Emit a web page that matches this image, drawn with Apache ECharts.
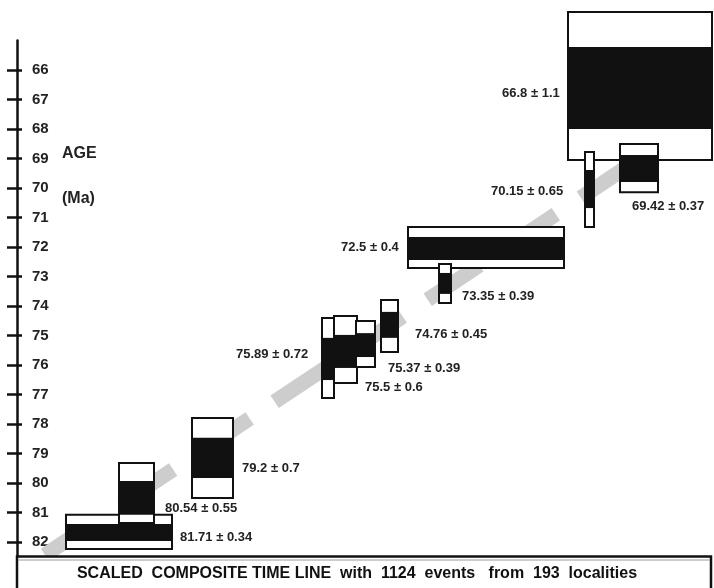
<!DOCTYPE html>
<html>
<head>
<meta charset="utf-8">
<script src="https://cdn.jsdelivr.net/npm/echarts@6/dist/echarts.min.js"></script>
<style>
html,body{margin:0;padding:0;background:#fff;}
#chart{width:714px;height:588px;}
</style>
</head>
<body>
<div id="chart"></div>
<script>
// ---- data ----
const ageTicks = [66,67,68,69,70,71,72,73,74,75,76,77,78,79,80,81,82];
const boxLabels = ['81.71 \u00b1 0.34','80.54 \u00b1 0.55','79.2 \u00b1 0.7','75.89 \u00b1 0.72','75.5 \u00b1 0.6','75.37 \u00b1 0.39','74.76 \u00b1 0.45','72.5 \u00b1 0.4','73.35 \u00b1 0.39','66.8 \u00b1 1.1','70.15 \u00b1 0.65','69.42 \u00b1 0.37'];
// composite time line position (arbitrary units)
const boxStart = [49,102,175,305,317,339,364,391,422,551,568,603];
const boxEnd   = [155,137,216,317,340,358,381,547,434,695,577,641];
// ages (Ma) as drawn
const outerTop    = [81.08,79.32,77.80,74.41,74.34,74.51,73.80,71.32,72.58,64.03,68.78,68.51];
const outerBottom = [82.24,81.36,80.51,77.12,76.61,76.07,75.56,72.71,73.90,69.05,71.32,70.14];
const innerTop    = [81.39,79.93,78.47,75.08,74.98,74.92,74.20,71.66,72.88,65.22,69.39,68.88];
const innerBottom = [81.97,81.08,79.83,76.51,76.10,75.73,75.08,72.44,73.59,68.00,70.68,69.80];
const labelX   = [163,148,225,219,348,371,398,324,445,485,474,615];
const labelAge = [81.86,80.85,79.49,75.63,76.75,76.10,74.98,72.0,73.66,66.81,70.10,70.64];
const trendX   = [28,673];
const trendAge = [82.44,67.86];
const bannerText = 'SCALED  COMPOSITE TIME LINE  with  1124  events   from  193  localities';

const FONT = '"Liberation Sans", Arial, sans-serif';
const boxData = boxStart.map((s,i)=>[s, boxEnd[i], outerTop[i], outerBottom[i], innerTop[i], innerBottom[i]]);
const labelData = labelX.map((x,i)=>[x, labelAge[i], i]);
const trendData = trendX.map((x,i)=>[x, trendAge[i]]);

const chart = echarts.init(document.getElementById('chart'), null, {renderer:'canvas'});
const yCommon = {type:'value', inverse:true, min:65, max:82.5, position:'left', splitLine:{show:false}};
chart.setOption({
  animation:false,
  backgroundColor:'#fff',
  grid:{left:17, right:0, top:40.5, bottom:31.25},
  xAxis:{type:'value', min:0, max:697, show:false},
  yAxis:[
    Object.assign({}, yCommon, {
      axisLine:{show:true, lineStyle:{color:'#111', width:2.5}},
      axisTick:{show:true, inside:false, length:10, customValues:ageTicks, lineStyle:{color:'#111', width:2.5}},
      axisLabel:{show:true, inside:true, margin:15, customValues:ageTicks, color:'#222', fontWeight:'bold', fontSize:15, fontFamily:FONT}
    }),
    Object.assign({}, yCommon, {
      axisLine:{show:false},
      axisTick:{show:true, inside:true, length:5, customValues:ageTicks, lineStyle:{color:'#111', width:2.5}},
      axisLabel:{show:false}
    })
  ],
  series:[
    {
      type:'line', data:trendData, symbol:'none', z:1, silent:true,
      lineStyle:{color:'#cdcdcd', width:15, type:[62,30], cap:'butt'}
    },
    {
      type:'custom', data:boxData, z:3, clip:false,
      encode:{x:[0,1], y:[2,3]},
      renderItem:function(params, api){
        const x0 = api.value(0), x1 = api.value(1);
        const p1 = api.coord([x0, api.value(2)]), p2 = api.coord([x1, api.value(3)]);
        const q1 = api.coord([x0, api.value(4)]), q2 = api.coord([x1, api.value(5)]);
        return {type:'group', children:[
          {type:'rect', shape:{x:p1[0], y:p1[1], width:p2[0]-p1[0], height:p2[1]-p1[1]}, style:{fill:'#fff', stroke:'#111', lineWidth:2}},
          {type:'rect', shape:{x:q1[0], y:q1[1], width:q2[0]-q1[0], height:q2[1]-q1[1]}, style:{fill:'#111'}}
        ]};
      }
    },
    {
      type:'custom', data:labelData, z:4, clip:false,
      encode:{x:0, y:1},
      renderItem:function(params, api){
        const p = api.coord([api.value(0), api.value(1)]);
        return {type:'text', x:p[0], y:p[1], style:{text:boxLabels[api.value(2)], fill:'#222', font:'bold 13px '+FONT, align:'left', verticalAlign:'middle'}};
      }
    }
  ],
  graphic:[
    {type:'text', left:62, top:146, style:{text:'AGE', fill:'#222', font:'bold 16px '+FONT}},
    {type:'text', left:62, top:191, style:{text:'(Ma)', fill:'#222', font:'bold 16px '+FONT}},
    {type:'rect', shape:{x:17, y:556.5, width:694, height:33}, style:{fill:'#fff', stroke:'#111', lineWidth:2.5}, z:10},
    {type:'line', shape:{x1:18, y1:560, x2:710, y2:560}, style:{stroke:'#999', lineWidth:1}, z:11},
    {type:'text', x:357, y:574, style:{text:bannerText, fill:'#111', font:'bold 16px '+FONT, align:'center', verticalAlign:'middle'}, z:12}
  ]
});
</script>
</body>
</html>
